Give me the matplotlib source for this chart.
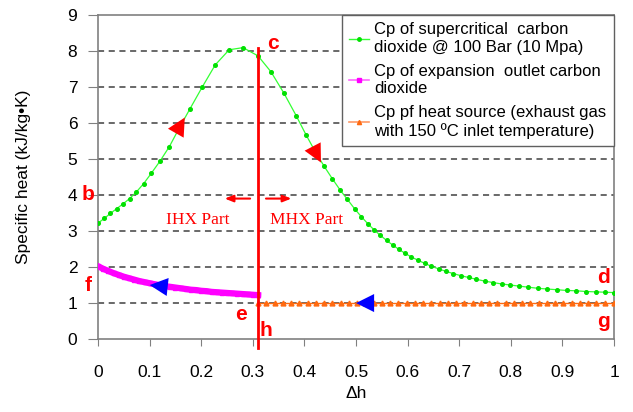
import matplotlib
matplotlib.use("Agg")
import matplotlib.pyplot as plt
from matplotlib.lines import Line2D

plt.rcParams['font.family'] = ['Liberation Sans', 'DejaVu Sans']

# Cp of supercritical CO2 @ 100 bar
green_x = [0, 0.012, 0.024, 0.036, 0.049, 0.061, 0.074, 0.088, 0.103, 0.120,
           0.138, 0.157, 0.178, 0.202, 0.227, 0.254, 0.281, 0.31, 0.335, 0.36,
           0.384, 0.403, 0.421, 0.438, 0.454, 0.469, 0.483, 0.497, 0.510, 0.523,
           0.535, 0.547, 0.559, 0.571, 0.583, 0.595, 0.607, 0.62, 0.633, 0.646,
           0.66, 0.674, 0.688, 0.703, 0.718, 0.733, 0.749, 0.765, 0.782, 0.799,
           0.816, 0.834, 0.852, 0.870, 0.889, 0.908, 0.927, 0.946, 0.965, 0.983, 1.0]
green_y = [3.22, 3.35, 3.49, 3.62, 3.76, 3.90, 4.08, 4.31, 4.60, 4.94,
           5.34, 5.85, 6.39, 7.00, 7.61, 8.03, 8.09, 7.86, 7.42, 6.83,
           6.20, 5.67, 5.20, 4.80, 4.45, 4.14, 3.88, 3.62, 3.40, 3.20,
           3.03, 2.88, 2.74, 2.61, 2.49, 2.38, 2.28, 2.19, 2.10, 2.02,
           1.95, 1.88, 1.82, 1.76, 1.71, 1.66, 1.61, 1.57, 1.53, 1.50,
           1.47, 1.44, 1.41, 1.39, 1.37, 1.35, 1.34, 1.32, 1.31, 1.30, 1.29]

# Cp of expansion outlet CO2
mag_x = [0, 0.01, 0.02, 0.03, 0.04, 0.05, 0.06, 0.07, 0.08, 0.09, 0.10,
         0.11, 0.12, 0.13, 0.14, 0.15, 0.16, 0.17, 0.18, 0.19, 0.20,
         0.21, 0.22, 0.23, 0.24, 0.25, 0.26, 0.27, 0.28, 0.29, 0.30, 0.31]
mag_y = [2.02, 1.95, 1.89, 1.83, 1.78, 1.73, 1.69, 1.65, 1.61, 1.58, 1.55,
         1.52, 1.49, 1.47, 1.45, 1.43, 1.41, 1.39, 1.37, 1.36, 1.34,
         1.33, 1.31, 1.30, 1.29, 1.28, 1.27, 1.26, 1.25, 1.24, 1.23, 1.22]

# Cp of heat source (exhaust gas)
orange_x = [0.31, 0.326, 0.342, 0.358, 0.374, 0.39, 0.406, 0.422, 0.438, 0.454,
            0.47, 0.486, 0.502, 0.518, 0.534, 0.55, 0.566, 0.582, 0.598, 0.614,
            0.63, 0.646, 0.662, 0.678, 0.694, 0.71, 0.726, 0.742, 0.758, 0.774,
            0.79, 0.806, 0.822, 0.838, 0.854, 0.87, 0.886, 0.902, 0.918, 0.934,
            0.95, 0.966, 0.982, 1.0]
orange_y = [1.0] * len(orange_x)

labels = ['Cp of supercritical  carbon\ndioxide @ 100 Bar (10 Mpa)',
          'Cp of expansion  outlet carbon\ndioxide',
          'Cp pf heat source (exhaust gas\nwith 150 ºC inlet temperature)']

x_ticks = [0, 0.1, 0.2, 0.3, 0.4, 0.5, 0.6, 0.7, 0.8, 0.9, 1]
x_tick_labels = ['0', '0.1', '0.2', '0.3', '0.4', '0.5', '0.6', '0.7', '0.8', '0.9', '1']
y_ticks = list(range(10))

red = '#ff0000'
fig = plt.figure(figsize=(6.33, 4.12), dpi=100)
ax = fig.add_axes([0.155, 0.177, 0.815, 0.787])

for yv in range(1, 9):
    ax.axhline(yv, color='#404040', lw=1.1, ls=(0, (4, 3)), zorder=1)

ax.plot(green_x, green_y, color='#33ff33', lw=0.9, marker='o', ms=2.6, mec='#00e000',
        mfc='#00e000', zorder=3)
ax.plot(mag_x, mag_y, color='#ff00ff', lw=4.5, marker='s', ms=3, zorder=3)
ax.plot(orange_x, orange_y, color='#ff6a10', lw=1, marker='^', ms=3.5, zorder=3)

# separation line
ax.plot([0.31, 0.31], [-0.25, 8.08], color=red, lw=2, clip_on=False, zorder=4)

# direction arrows
def arrow(xy, xytext, col):
    ax.annotate('', xy=xy, xytext=xytext,
                arrowprops=dict(arrowstyle='-|>,head_length=1.0,head_width=0.5',
                                color=col, lw=0, shrinkA=0, shrinkB=0,
                                mutation_scale=13), zorder=5)

arrow((0.168, 6.15), (0.15, 5.7), red)
arrow((0.432, 4.9), (0.412, 5.45), red)
arrow((0.1, 1.5), (0.145, 1.43), 'blue')
arrow((0.5, 1.0), (0.55, 1.0), 'blue')

ax.annotate('', xy=(0.24, 3.9), xytext=(0.3, 3.9),
            arrowprops=dict(arrowstyle='-|>,head_length=0.5,head_width=0.2', color=red, lw=1.5))
ax.annotate('', xy=(0.38, 3.9), xytext=(0.32, 3.9),
            arrowprops=dict(arrowstyle='-|>,head_length=0.5,head_width=0.2', color=red, lw=1.5))

ax.text(0.194, 3.3, 'IHX Part', color=red, family='Liberation Serif', fontsize=12.5,
        ha='center', va='center')
ax.text(0.405, 3.3, 'MHX Part', color=red, family='Liberation Serif', fontsize=12.5,
        ha='center', va='center')

lab = dict(color=red, fontsize=15, fontweight='bold', ha='center', va='center')
ax.text(0.338, 8.2, 'c', **lab)
ax.text(-0.02, 4.0, 'b', clip_on=False, **lab)
ax.text(-0.02, 1.5, 'f', clip_on=False, **lab)
ax.text(0.277, 0.67, 'e', **lab)
ax.text(0.326, 0.25, 'h', **lab)
ax.text(0.98, 1.72, 'd', **lab)
ax.text(0.98, 0.5, 'g', **lab)

ax.set_xlim(0, 1)
ax.set_ylim(0, 9)
ax.set_xticks(x_ticks)
ax.set_xticklabels(x_tick_labels)
ax.set_yticks(y_ticks)
ax.tick_params(axis='x', direction='out', length=5, pad=14, labelsize=12.5, color='#808080')
ax.tick_params(axis='y', direction='out', length=7, pad=8, labelsize=12.5, color='#808080')
for s in ax.spines.values():
    s.set_color('#808080')
    s.set_linewidth(1.2)

ax.set_xlabel('Δh', fontsize=12.5, labelpad=4)
ax.set_ylabel('Specific heat (kJ/kg•K)', fontsize=12.5, labelpad=26)

handles = [Line2D([], [], color='#33ff33', lw=1, marker='o', ms=2.5, mfc='#00e000', mec='#00e000'),
           Line2D([], [], color='#ff66ff', lw=1.2, marker='s', ms=2.5, mfc='#ff00ff', mec='#ff00ff'),
           Line2D([], [], color='#ff9966', lw=1.2, marker='^', ms=3, mfc='#ff6a10', mec='#ff6a10')]
leg = ax.legend(handles, labels, loc='upper right', bbox_to_anchor=(1.0, 1.0), fontsize=12,
                frameon=True, fancybox=False, edgecolor='#606060', handlelength=1.2,
                handletextpad=0.3, borderaxespad=0, labelspacing=0.55, borderpad=0.45)
leg.get_frame().set_linewidth(1)
leg.get_frame().set_alpha(1)

fig.savefig('out.png', dpi=100)
